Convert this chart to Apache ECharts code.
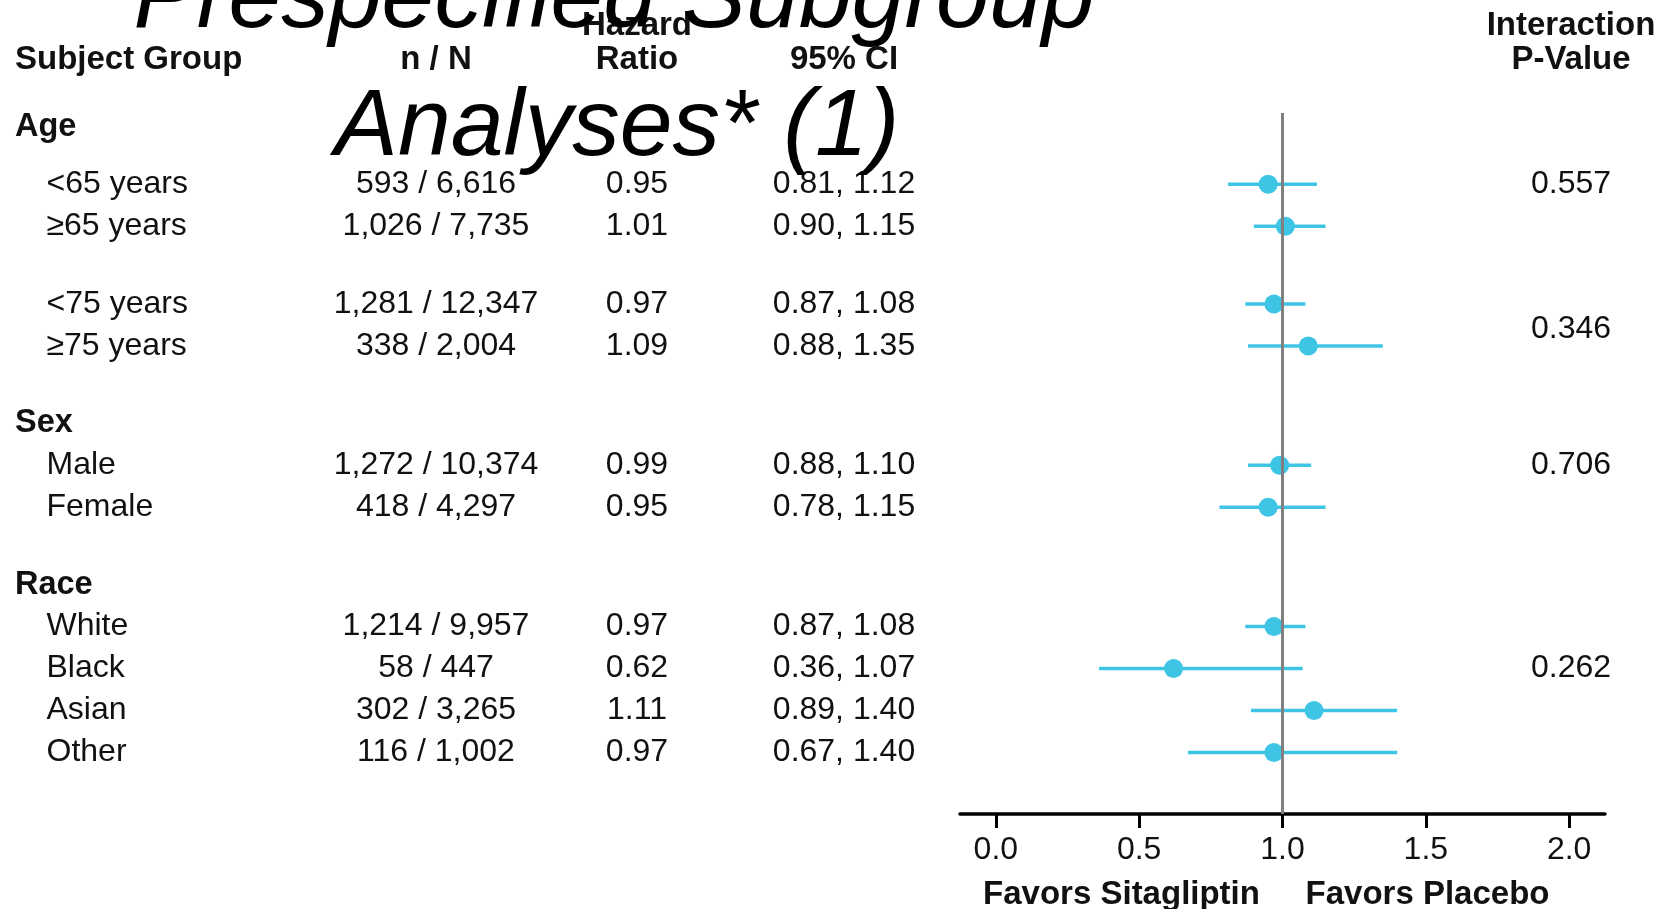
<!DOCTYPE html>
<html>
<head>
<meta charset="utf-8">
<script src="https://cdn.jsdelivr.net/npm/echarts@6/dist/echarts.min.js"></script>
<style>
  html, body { margin: 0; padding: 0; background: #fff; }
  #chart { width: 1659px; height: 909px; }
</style>
</head>
<body>
<div id="chart"></div>
<script>
// ---------------- data ----------------
const titleLines = ['Prespecified Subgroup', 'Analyses* (1)'];
const columnHeaders = ['Subject Group', 'n / N', 'Hazard\nRatio', '95% CI', 'Interaction\nP-Value'];
const groups = ['Age', 'Sex', 'Race'];
const subgroups = ['<65 years', '≥65 years', '<75 years', '≥75 years', 'Male', 'Female', 'White', 'Black', 'Asian', 'Other'];
const groupOfRow = ['Age', 'Age', 'Age', 'Age', 'Sex', 'Sex', 'Race', 'Race', 'Race', 'Race'];
const blockOfRow = [0, 0, 1, 1, 2, 2, 3, 3, 3, 3];
const events = ['593 / 6,616', '1,026 / 7,735', '1,281 / 12,347', '338 / 2,004', '1,272 / 10,374', '418 / 4,297', '1,214 / 9,957', '58 / 447', '302 / 3,265', '116 / 1,002'];
const hazardRatio = [0.95, 1.01, 0.97, 1.09, 0.99, 0.95, 0.97, 0.62, 1.11, 0.97];
const ciLower = [0.81, 0.90, 0.87, 0.88, 0.88, 0.78, 0.87, 0.36, 0.89, 0.67];
const ciUpper = [1.12, 1.15, 1.08, 1.35, 1.10, 1.15, 1.08, 1.07, 1.40, 1.40];
const pValues = ['0.557', '0.346', '0.706', '0.262'];
const pValueRow = [0, 2.6, 4, 7];
const xTicks = [0, 0.5, 1.0, 1.5, 2.0];
const referenceHR = 1;
const favorLabels = ['Favors Sitagliptin', 'Favors Placebo'];

// ---------------- layout ----------------
const FONT = '"Liberation Sans", Arial, sans-serif';
const BLUE = '#3EC4E4';
const INK = '#111';
const BODY = 32, HEAD = 33, GROUP = 32.5;
const TEXT_DY = 2;
const firstRowOffset = 1.36, headerToRow = 1.0, blockGap = 1.85, groupGap = 1.84;
const rowPos = [];
const groupPos = {};
let pos = 0;
subgroups.forEach((s, i) => {
  if (i === 0) { groupPos[groupOfRow[0]] = 0; pos = firstRowOffset; }
  else if (groupOfRow[i] !== groupOfRow[i - 1]) { pos += groupGap; groupPos[groupOfRow[i]] = pos; pos += headerToRow; }
  else if (blockOfRow[i] !== blockOfRow[i - 1]) { pos += blockGap; }
  else { pos += 1; }
  rowPos.push(pos);
});
const pPos = pValueRow.map(r => {
  const lo = Math.floor(r), f = r - lo;
  return f === 0 ? rowPos[lo] : rowPos[lo] + f * (rowPos[lo + 1] - rowPos[lo]);
});

const colX = { label: 46.5, group: 15, events: 436, hr: 637, ci: 844, p: 1571 };

function txt(text, x, y, opts) {
  return {
    type: 'text',
    style: Object.assign({
      text: text, x: x, y: y, fill: INK,
      fontSize: BODY, fontFamily: FONT, fontWeight: 'normal',
      align: 'left', verticalAlign: 'middle'
    }, opts || {})
  };
}

const chart = echarts.init(document.getElementById('chart'), null, { renderer: 'canvas' });

const option = {
  animation: false,
  backgroundColor: '#fff',
  grid: { left: 960, right: 54, top: 113, bottom: 95 },
  xAxis: {
    type: 'value', min: -0.125, max: 2.125,
    splitLine: { show: false },
    axisLine: { show: true, onZero: false, lineStyle: { color: '#000', width: 3.5 } },
    axisTick: { show: true, customValues: xTicks, length: 14, inside: false, lineStyle: { color: '#000', width: 3 } },
    axisLabel: {
      customValues: xTicks, margin: 20, fontSize: BODY, fontFamily: FONT, color: INK,
      formatter: v => Number(v).toFixed(1)
    }
  },
  yAxis: {
    type: 'value', inverse: true, min: -0.29, max: 16.4, show: false
  },
  series: [
    { // CI whiskers
      type: 'custom', z: 2, clip: false,
      data: subgroups.map((_, i) => [ciLower[i], ciUpper[i], rowPos[i]]),
      encode: { x: [0, 1], y: 2 },
      renderItem: (params, api) => {
        const y = api.value(2);
        const p1 = api.coord([api.value(0), y]);
        const p2 = api.coord([api.value(1), y]);
        return { type: 'line', shape: { x1: p1[0], y1: p1[1] + 2, x2: p2[0], y2: p2[1] + 2 }, style: { stroke: BLUE, lineWidth: 3.5 } };
      }
    },
    { // point estimates
      type: 'scatter', z: 3, symbol: 'circle', symbolSize: 19, symbolOffset: [0, 2],
      itemStyle: { color: BLUE, opacity: 1 },
      data: subgroups.map((_, i) => [hazardRatio[i], rowPos[i]])
    },
    { // reference line at HR = 1
      type: 'custom', z: 5, clip: false,
      data: [[referenceHR, 0]],
      renderItem: (params, api) => {
        const cs = params.coordSys;
        const x = api.coord([api.value(0), 0])[0];
        return { type: 'line', shape: { x1: x, y1: cs.y, x2: x, y2: cs.y + cs.height }, style: { stroke: '#808080', lineWidth: 3 } };
      }
    },
    { // table rows
      type: 'custom', z: 4, clip: false,
      data: subgroups.map((_, i) => [0, rowPos[i]]),
      renderItem: (params, api) => {
        const i = params.dataIndex;
        const y = api.coord([0, api.value(1)])[1] + TEXT_DY;
        return {
          type: 'group',
          children: [
            txt(subgroups[i], colX.label, y),
            txt(events[i], colX.events, y, { align: 'center' }),
            txt(hazardRatio[i].toFixed(2), colX.hr, y, { align: 'center' }),
            txt(ciLower[i].toFixed(2) + ', ' + ciUpper[i].toFixed(2), colX.ci, y, { align: 'center' })
          ]
        };
      }
    },
    { // group headers
      type: 'custom', z: 4, clip: false,
      data: groups.map(g => [0, groupPos[g]]),
      renderItem: (params, api) => {
        const y = api.coord([0, api.value(1)])[1] + TEXT_DY;
        return txt(groups[params.dataIndex], colX.group, y, { fontWeight: 'bold', fontSize: GROUP });
      }
    },
    { // interaction p-values
      type: 'custom', z: 4, clip: false,
      data: pPos.map(p => [0, p]),
      renderItem: (params, api) => {
        const y = api.coord([0, api.value(1)])[1] + TEXT_DY;
        return txt(pValues[params.dataIndex], colX.p, y, { align: 'center' });
      }
    }
  ],
  graphic: [
    txt(columnHeaders[0], colX.group, 60, { fontWeight: 'bold', fontSize: HEAD }),
    txt(columnHeaders[1], colX.events, 60, { fontWeight: 'bold', fontSize: HEAD, align: 'center' }),
    txt(columnHeaders[2].split('\n')[0], colX.hr, 26, { fontWeight: 'bold', fontSize: HEAD, align: 'center' }),
    txt(columnHeaders[2].split('\n')[1], colX.hr, 60, { fontWeight: 'bold', fontSize: HEAD, align: 'center' }),
    txt(columnHeaders[3], colX.ci, 60, { fontWeight: 'bold', fontSize: HEAD, align: 'center' }),
    txt(columnHeaders[4].split('\n')[0], colX.p, 26, { fontWeight: 'bold', fontSize: HEAD, align: 'center' }),
    txt(columnHeaders[4].split('\n')[1], colX.p, 60, { fontWeight: 'bold', fontSize: HEAD, align: 'center' }),
    txt(favorLabels[0], 1121.5, 895, { fontWeight: 'bold', fontSize: 33, align: 'center' }),
    txt(favorLabels[1], 1427.5, 895, { fontWeight: 'bold', fontSize: 33, align: 'center' }),
    Object.assign(txt(titleLines[0], 614, 1, { fontSize: 95, fontStyle: 'italic', align: 'center', fill: '#000' }), { z: 100 }),
    Object.assign(txt(titleLines[1], 617, 129, { fontSize: 95, fontStyle: 'italic', align: 'center', fill: '#000' }), { z: 100 })
  ]
};
chart.setOption(option);
</script>
</body>
</html>
